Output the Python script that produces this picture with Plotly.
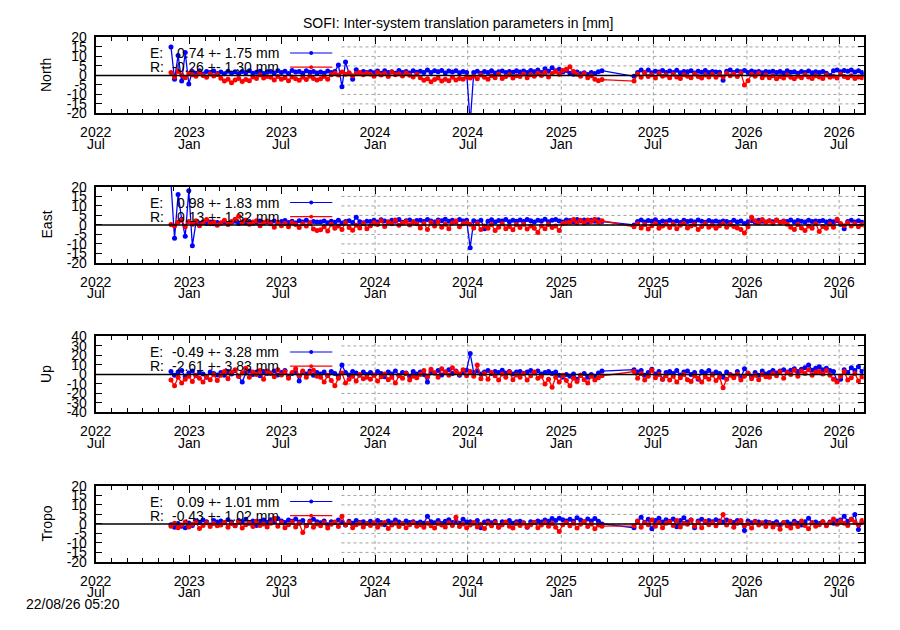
import pandas as pd
import plotly.graph_objects as go

FONT = "Liberation Sans"

# ---- time axis -------------------------------------------------------------
START = "2022-11-26"          # first weekly sample
N_SAMPLES = 196               # weekly samples (14 rows of 14)
X_START = "2022-07-01"
X_END = "2026-08-18"
KEY_END = "2023-10-27"        # opaque key box hides the grid left of this date
xtick_vals = ["2022-07-01", "2023-01-01", "2023-07-01", "2024-01-01", "2024-07-01",
              "2025-01-01", "2025-07-01", "2026-01-01", "2026-07-01"]
xtick_years = ["2022", "2023", "2023", "2024", "2024", "2025", "2025", "2026", "2026"]
xtick_months = ["Jul", "Jan", "Jul", "Jan", "Jul", "Jan", "Jul", "Jan", "Jul"]

# ---- series (weekly values, mm); None = no data (gap Apr-May 2025) ----------
north_e = [
    15.0, -2.0, 10.5, -3.0, 12.0, -4.5, 2.0, 1.2, 2.4, 0.8, 2.1, 1.5, 2.3, 1.0,
    1.8, 0.9, 2.2, 1.3, 1.9, 0.7, 2.0, 1.4, 2.4, 1.1, 1.7, 2.2, 1.0, 1.9,
    2.1, 1.3, 2.5, 1.6, 2.2, 1.0, 2.6, 1.8, 2.0, 1.2, 2.4, 1.7, 2.1, 1.3,
    1.8, 1.2, 2.3, 1.5, 2.0, 5.5, -6.0, 7.0, 1.0, -2.0, 3.0, 1.2, 2.0, 1.5,
    2.0, 1.4, 2.3, 1.1, 2.5, 1.6, 1.9, 1.2, 2.6, 1.5, 2.0, 1.3, 2.4, 1.7,
    2.2, 1.6, 2.8, 1.5, 2.4, 1.9, 2.6, 1.3, 2.3, 1.8, 2.5, 1.4, 2.0, 1.6,
    -25.0, 1.5, 2.2, 1.2, 2.0, 1.6, 2.4, 1.3, 1.9, 2.3, 1.5, 2.1, 1.7, 2.4,
    1.8, 2.3, 1.5, 2.6, 1.9, 2.8, 1.6, 3.5, 2.2, 4.0, 2.5, 3.2, 1.8, 2.6,
    1.2, 0.6, 1.8, 0.9, 1.4, 0.5, 1.6, 1.0, 1.9, 2.5, None, None, None, None,
    None, None, None, None, -0.5, 1.5, 2.8, 1.6, 2.9, 1.4, 2.2, 1.8, 2.6, 1.5,
    2.3, 1.6, 2.7, 1.4, 2.1, 1.9, 2.5, 1.3, 2.2, 1.7, 2.6, 1.5, 2.0, 1.8,
    1.7, -2.5, 2.2, 2.8, 1.6, 2.4, 1.9, 2.6, 1.5, 2.3, 1.8, 2.1, 1.4, 2.0,
    1.8, 2.2, 1.5, 2.0, 1.3, 2.4, 1.7, 1.9, 1.2, 2.1, 1.6, 2.3, 1.4, 1.9,
    1.6, 2.0, 1.2, 0.0, 2.4, 2.8, 1.9, 2.6, 2.2, 2.9, 1.8, 2.5, 1.5, 1.0,
]
north_r = [
    1.5, -0.8, 2.0, 0.2, -1.2, 1.0, 0.4, -0.5, 1.6, 0.0, -1.0, 0.8, -0.3, 0.5,
    -1.5, -3.0, -2.0, -3.8, -2.4, -1.6, -3.2, -2.2, -2.8, -0.8, -1.6, 0.2, -1.4, -0.6,
    -1.0, -2.4, -0.6, -2.0, -1.2, -2.8, -0.8, -1.8, -2.6, -1.0, -2.2, -0.5, -1.6, -2.4,
    -1.8, -0.6, -2.0, 0.4, 1.2, 0.2, 1.8, 0.6, 1.4, -0.2, 1.0, 1.6, 0.3, 1.2,
    0.8, -0.4, 1.5, 0.2, 1.0, -0.6, 1.8, 0.4, 0.9, -0.3, 1.3, 0.1, -0.8, 0.6,
    -1.2, -2.6, -1.8, -3.4, -2.2, -1.4, -3.0, -2.0, -2.8, -1.0, -2.4, -1.6, -2.0, -0.8,
    -1.4, -0.4, -1.8, 0.2, -1.0, -2.0, -0.2, -1.2, 0.6, -1.6, -0.6, 0.4, -1.4, -0.2,
    -0.6, 0.8, -1.2, 0.4, -0.4, 1.2, 0.0, 1.6, -0.8, 1.0, 2.0, 0.6, 2.6, 3.2,
    4.5, 2.0, 0.6, -0.4, 1.0, -1.2, -0.2, -2.0, -2.8, -2.2, None, None, None, None,
    None, None, None, None, -3.0, 0.8, -1.0, 1.4, -0.6, 0.4, -1.4, 1.0, -0.4, 0.2,
    -1.2, 0.6, -0.8, -1.6, 0.4, -0.4, -1.2, 0.8, -0.6, -1.4, 0.2, -0.8, 0.6, -1.0,
    0.4, -0.8, 1.0, -0.2, 0.8, -0.6, 1.2, -5.0, -2.8, 0.6, -0.4, 1.0, -1.2, 0.2,
    -1.2, -0.2, -1.8, -0.6, -1.4, 0.2, -1.0, -1.8, -0.4, -1.2, 0.4, -0.8, -1.6, -0.2,
    -0.8, -1.6, 0.2, -1.0, -0.4, -1.4, 0.6, -0.6, -1.2, -0.2, -1.6, -0.8, -1.2, -0.4,
]
east_e = [
    22.0, -7.0, 16.0, 3.0, -6.0, 18.0, -11.0, 1.2, 0.5, 1.5, 0.8, 1.6, 0.6, 1.3,
    1.0, 1.6, 0.7, 1.4, 1.9, 0.8, 1.5, 1.1, 1.8, 0.9, 1.4, 2.0, 1.2, 1.7,
    1.4, 2.0, 1.1, 1.8, 2.3, 1.3, 1.9, 1.0, 2.2, 1.6, 2.4, 1.2, 1.8, 1.5,
    1.6, 2.1, 1.2, 1.9, 1.4, 2.4, 1.0, 1.8, 2.2, 1.3, 4.0, 1.7, 1.1, 1.9,
    1.8, 2.4, 1.5, 2.7, 2.0, 1.6, 2.5, 1.9, 2.8, 1.4, 2.2, 2.6, 1.7, 2.3,
    2.4, 1.8, 2.9, 2.1, 1.6, 2.6, 2.2, 3.0, 1.9, 2.5, 1.7, 2.8, 2.0, 2.4,
    -12.0, 2.2, 1.6, 2.5, -2.0, 1.9, 2.7, 1.5, 2.3, 2.0, 2.8, 1.7, 2.4, 1.9,
    2.6, 1.8, 2.9, 2.2, 1.6, 2.5, 2.0, 3.0, 1.7, 2.4, 2.8, 2.1, 1.5, 2.6,
    2.3, 1.7, 2.8, 2.0, 2.6, 1.5, 2.4, 1.9, 2.7, 1.8, None, None, None, None,
    None, None, None, None, 0.0, 1.8, 2.6, 1.5, 2.3, 1.9, 2.7, 1.4, 2.1, 1.7,
    2.4, 1.6, 2.0, 1.3, 2.5, 1.8, 2.2, 1.5, 2.6, 1.9, 1.4, 2.3, 1.7, 2.0,
    1.5, 2.1, 1.8, 1.3, 2.4, 1.6, 2.0, 0.8, 1.7, 2.2, 1.4, 2.5, 1.9, 1.6,
    2.2, 1.7, 2.5, 1.4, 2.0, 1.8, 2.6, 1.5, 2.3, 1.9, 1.6, 2.4, 1.8, 2.1,
    1.9, 2.3, 1.5, 2.0, 1.7, 2.2, 0.4, -2.0, 1.8, 2.4, 1.6, 2.2, 1.4, 1.8,
]
east_r = [
    0.2, -0.6, 1.4, 2.6, -1.0, 1.8, 0.4, 2.2, -0.4, 1.2, 2.8, 0.6, 1.6, -0.2,
    1.0, 2.4, 0.2, 1.8, 3.0, 4.5, 1.2, 2.6, 0.4, 1.6, 2.2, -0.4, 1.4, 2.0,
    0.6, -1.2, 1.4, -0.4, 0.8, -1.0, 1.2, 0.2, -1.4, 0.6, -0.6, 1.0, -2.2, -3.0,
    -2.6, -1.0, -3.2, 0.4, -1.8, -0.6, -2.4, 1.2, -1.4, -2.8, -0.2, -1.6, 0.8, -2.0,
    -0.4, 1.2, 0.2, 2.2, -0.8, 1.6, 0.6, 2.6, -0.2, 1.0, 1.8, 0.0, 1.4, 0.6,
    -1.6, 0.8, -2.4, 1.4, -0.6, 1.8, -1.2, 0.4, -2.0, 1.0, 2.0, -1.0, 0.6, 1.2,
    0.4, -1.6, 0.8, -2.4, -0.6, -1.8, 0.2, -3.0, -1.2, 0.6, -2.0, -0.8, -2.6, 0.2,
    -1.4, 0.4, -2.2, -0.6, -1.8, -4.0, -0.4, -2.0, 0.2, -1.4, -0.6, -3.0, 0.8, 1.2,
    1.6, 2.8, 1.2, 2.4, 1.0, 2.6, 1.8, 3.0, 1.4, 2.2, None, None, None, None,
    None, None, None, None, -1.0, 0.6, -1.6, 0.2, -2.2, -0.4, 0.8, -1.8, -0.6, 0.4,
    -1.4, 0.4, -2.0, -0.2, 0.8, -1.6, -0.6, 0.2, -2.4, -0.8, 0.6, -1.2, -0.2, -1.8,
    -0.4, 0.6, -1.2, 0.2, -0.8, -1.6, -2.4, -4.2, -1.0, 4.0, 2.2, 1.0, 2.8, 1.4,
    2.0, 0.8, 2.6, 1.2, 1.8, 0.4, -1.2, -2.4, 0.2, -1.6, -3.0, -0.6, -1.8, 0.6,
    -3.5, -0.8, -1.8, 0.4, -1.2, 3.0, 0.8, -0.4, 1.2, -0.6, 0.6, -1.0, 0.2, -0.8,
]
up_e = [
    3.0, -1.0, 2.5, 4.0, -2.5, 1.5, 3.5, -1.5, 2.0, 0.5, -3.0, 2.5, 1.0, -0.5,
    2.0, -1.0, 3.0, 0.5, 4.0, -2.0, -8.0, 1.5, 3.5, 0.0, 2.5, -1.5, 3.0, 1.0,
    1.5, 3.5, -0.5, 2.0, 4.0, -2.0, 1.0, 3.0, -7.0, 2.5, 0.5, 3.5, -1.0, 2.0,
    0.5, 2.5, -1.5, 3.0, 1.0, -2.0, 10.0, 2.0, -0.5, 3.0, 1.5, -1.0, 2.5, 0.0,
    2.0, -0.5, 3.0, 1.0, -2.5, 2.5, 0.5, 3.5, -1.0, 2.0, 1.5, -2.0, 3.0, 0.5,
    2.5, 0.0, -8.0, 3.0, 1.5, 4.0, -0.5, 2.5, 5.0, 1.0, 3.5, -1.0, 2.0, 4.5,
    22.0, 2.0, 3.5, 0.5, 2.5, 4.0, 1.0, 3.0, 2.0, 4.5, 1.5, 3.0, 0.5, 2.5,
    3.0, 1.0, 2.5, 4.0, 1.5, 3.5, 0.5, 2.0, 3.0, 1.0, 2.5, -1.0, -3.0, 0.0,
    -2.0, 0.5, -5.0, -1.0, 1.0, -3.0, 0.0, -2.5, 1.5, 3.5, None, None, None, None,
    None, None, None, None, 5.0, 2.5, 4.0, -1.0, 2.0, 5.5, 0.5, 3.0, -5.0, 2.0,
    3.0, 1.0, 4.0, -0.5, 2.5, 3.5, 0.0, 2.0, -5.0, 3.0, 1.5, 4.0, 0.5, 2.5,
    1.0, -3.0, 2.5, 0.0, -2.0, 3.0, -3.5, 6.0, 1.0, -2.5, 2.0, -1.0, 3.5, 0.5,
    2.0, 4.0, 1.5, 3.5, 5.0, 2.5, 4.5, 6.0, 3.0, 5.5, 7.0, 10.0, 4.5, 6.5,
    8.0, 5.0, 6.5, 4.0, 3.0, -7.0, -5.0, 5.0, 2.0, 7.0, 4.0, 8.0, 3.0, 6.0,
]
up_r = [
    -6.0, -12.0, -3.0, -9.0, -5.0, -2.0, -7.5, -1.0, -4.0, -8.0, -2.5, -5.5, 0.0, -6.5,
    -1.0, 3.0, -4.5, 2.0, 5.0, -2.0, 1.5, 6.5, -3.0, 2.5, 0.0, 4.0, -5.0, 3.5,
    1.0, -2.5, 5.0, -0.5, 3.0, -4.0, 2.0, 6.0, -1.5, 3.5, -3.0, 1.5, 4.5, -2.0,
    -3.0, -8.0, -1.0, -6.5, -12.0, -4.0, 1.5, -9.0, -5.0, -2.0, -7.0, 0.0, -4.5, -3.0,
    -5.0, -1.0, -7.0, -2.5, 0.5, -5.5, -3.0, -9.0, -1.5, -4.0, 1.0, -6.0, -2.0, -3.5,
    0.0, 4.0, -2.5, 5.5, 1.5, -3.0, 6.0, 2.5, -1.0, 7.0, 3.0, 0.5, 5.0, -1.5,
    3.0, -2.0, 10.0, -4.5, 1.0, -5.0, 2.0, -1.5, -6.0, 0.5, -3.0, 2.5, -5.5, -0.5,
    -3.0, 1.0, -6.0, -1.5, 2.5, -4.0, -2.0, -10.0, -5.0, -13.5, -3.0, -8.0, -1.0, -6.5,
    -12.0, -4.0, -7.5, -1.0, -5.5, -9.0, -2.0, -6.0, -3.5, -1.5, None, None, None, None,
    None, None, None, None, 3.0, -4.0, 1.0, -6.0, -2.0, 4.5, -3.5, 0.0, -5.0, -1.5,
    -6.0, -2.0, -8.0, -3.5, 0.0, -5.5, -7.5, -1.5, -4.0, -8.0, -2.5, -5.0, -0.5, -6.5,
    -3.0, -14.0, -5.0, -1.0, -3.5, 0.5, -6.0, -2.0, 1.5, -4.5, -1.0, -5.5, 0.0, -2.5,
    -3.0, 1.0, -1.5, 3.0, -4.0, 2.0, 0.0, 4.5, -2.0, 3.5, 1.0, 5.0, -1.0, 2.5,
    3.0, 0.5, 4.0, -1.0, -5.0, -8.0, -2.0, 3.0, -6.0, -3.5, 1.0, -7.0, -2.5, -4.0,
]
tropo_e = [
    -0.5, -1.8, 0.2, -1.2, -2.0, 0.5, -0.8, 1.5, 0.8, 2.0, 1.2, -0.6, 1.8, 1.0,
    1.6, 0.6, 2.2, 1.0, -1.0, 1.8, 1.2, 2.4, 0.4, 1.6, -0.8, 1.4, 2.0, 0.8,
    2.2, 1.2, 2.8, 1.6, 0.8, 2.0, 1.4, 2.6, 1.0, 1.8, -1.0, 1.6, 2.4, 1.2,
    0.6, 1.6, -0.4, 1.2, 0.8, 2.0, 1.0, -0.6, 1.4, 0.4, 1.8, 0.8, 1.2, 0.2,
    1.4, 0.4, 1.8, 0.8, -0.4, 1.6, 0.6, 2.0, 1.0, 0.2, 1.6, 0.8, 1.2, 0.4,
    1.0, 0.4, 4.0, 1.2, 0.6, 1.8, 0.2, 1.4, 2.2, 0.8, 1.6, 0.4, 2.4, 1.0,
    1.2, 0.4, 1.8, -2.0, 1.0, 1.6, 0.6, 1.4, -1.6, 1.2, 0.8, 1.8, 0.4, 1.2,
    1.4, 0.6, -1.8, 1.2, 0.8, 1.6, 1.0, 2.0, 1.4, 2.8, 1.8, 3.0, 2.2, 1.6,
    2.4, 1.4, 3.2, 2.0, 1.2, 2.6, 1.6, 2.8, 1.4, 0.0, None, None, None, None,
    None, None, None, None, -2.0, 1.6, 3.5, 0.8, 2.4, -2.5, 1.8, 3.0, 1.0, 2.2,
    1.4, 2.6, -1.5, 1.8, 3.2, 1.0, 2.0, -2.0, 1.6, 2.4, 0.8, 1.8, 1.2, 2.2,
    1.6, 1.0, 2.0, 1.4, 0.8, 1.8, 1.2, -3.5, 1.6, 0.6, 1.4, 1.0, 0.4, 1.2,
    0.8, 0.2, 1.2, -0.4, 0.6, 1.0, 0.0, 1.4, 0.4, -0.6, 1.2, 3.0, 0.6, 1.0,
    0.2, 1.2, -0.6, 1.0, 0.4, 1.6, 2.0, 4.0, 1.4, 2.4, 5.0, -3.0, 1.0, 0.6,
]
tropo_r = [
    -1.2, 0.4, -2.0, -0.6, 1.0, -1.6, -0.2, 0.8, -2.4, -0.8, 0.6, -1.4, 0.2, -1.0,
    -0.6, 0.8, -1.8, 0.2, -1.0, 1.2, -2.2, -0.4, 0.6, -1.4, 1.4, -0.8, 0.0, -1.6,
    0.4, 3.0, -1.2, 0.8, -2.0, -0.4, 1.0, -1.6, 0.2, -4.5, -0.8, 1.2, -1.8, 0.0,
    -1.0, 0.6, -2.2, -0.2, 1.0, -1.4, 4.0, -0.6, 0.8, -2.0, -0.4, 0.4, -1.6, 0.2,
    -0.8, 0.6, -1.8, -0.2, 0.8, -2.4, -0.6, 0.4, -1.4, 0.2, -2.0, -0.4, 0.6, -1.2,
    -0.4, -1.8, 0.4, -1.0, -2.2, 0.2, -0.6, -1.6, 0.6, -0.8, 3.5, -1.4, 0.0, -2.0,
    -0.6, 0.8, -1.6, -0.2, -2.4, 0.4, -1.0, 0.6, -1.8, -0.4, 1.0, -1.2, -2.2, 0.2,
    -0.8, 0.4, -1.6, -0.4, 0.8, -2.0, -0.6, 0.6, -1.2, 0.2, -1.8, -4.0, -0.4, 0.8,
    -1.0, 0.4, -2.2, -0.2, 1.2, -1.4, 0.0, -2.6, -0.6, -1.2, None, None, None, None,
    None, None, None, None, -1.0, 1.4, -1.8, 0.6, -0.4, 2.0, -1.2, 0.8, -2.0, 0.4,
    1.2, -0.8, 1.8, -1.6, 0.4, -0.2, 2.0, -1.2, 0.8, -2.0, 1.4, -0.4, 0.6, -1.0,
    0.8, 5.0, -0.6, 1.4, -1.8, 0.4, 1.8, -1.0, 0.2, -2.2, 1.2, -0.6, 0.6, -1.4,
    0.4, -1.6, -0.2, -2.8, 0.8, -1.0, -2.2, 0.2, -1.4, 1.6, -0.8, -2.6, 0.6, -1.2,
    -0.4, 1.2, -1.0, 0.6, 2.6, -0.2, 1.4, 0.4, -0.8, 2.4, 1.0, -0.6, 1.8, 0.2,
]

panel_names = ["North", "East", "Up", "Tropo"]
panel_limits = [20, 20, 40, 20]
panel_steps = [5, 5, 10, 5]
legend_e = ["0.74 +- 1.75 mm", "0.98 +- 1.83 mm", "-0.49 +- 3.28 mm", "0.09 +- 1.01 mm"]
legend_r = ["-0.26 +- 1.30 mm", "0.13 +- 1.32 mm", "-2.61 +- 3.83 mm", "-0.43 +- 1.02 mm"]
series_e = [north_e, east_e, up_e, tropo_e]
series_r = [north_r, east_r, up_r, tropo_r]

TITLE = "SOFI: Inter-system translation parameters in [mm]"
STAMP = "22/08/26 05:20"
BLUE = "#0000ff"
RED = "#ff0000"
GRID = "#a0a0a0"

# ---- layout geometry (pixels of the 900x630 page) ---------------------------
OFF = 8                       # default body margin of the html page
W, H = 900 - 2 * OFF, 630 - 2 * OFF
PLOT_L, PLOT_R = 81, 863
PANEL_TOPS = [30, 183.5, 337, 490.5]
PANEL_H = 78


def px(x):
    return (x - OFF) / W


def py(y):
    return 1 - (y - OFF) / H


dates = pd.date_range(START, periods=N_SAMPLES, freq="7D")
for s in series_e + series_r:
    assert len(s) == N_SAMPLES, len(s)

font = dict(family=FONT, size=14, color="black")
fig = go.Figure()
layout = dict(
    width=W, height=H, autosize=False,
    margin=dict(l=0, r=0, t=0, b=0, pad=0),
    paper_bgcolor="white", plot_bgcolor="white",
    showlegend=False, font=font,
)
shapes, annotations = [], []
grid_line = dict(color=GRID, width=1, dash="dot")

for i in range(4):
    n = i + 1
    xa = "x" if n == 1 else f"x{n}"
    ya = "y" if n == 1 else f"y{n}"
    xkey = "xaxis" if n == 1 else f"xaxis{n}"
    ykey = "yaxis" if n == 1 else f"yaxis{n}"
    top = PANEL_TOPS[i]
    dom = [py(top + PANEL_H), py(top)]

    for vals, col in ((series_e[i], BLUE), (series_r[i], RED)):
        fig.add_trace(go.Scatter(
            x=dates, y=vals, mode="lines+markers", connectgaps=True,
            line=dict(color=col, width=1.3),
            marker=dict(color=col, size=5, line=dict(width=0)),
            xaxis=xa, yaxis=ya, hoverinfo="skip", cliponaxis=True,
        ))

    lim, step = panel_limits[i], panel_steps[i]
    ytv = list(range(-lim, lim + 1, step))
    layout[xkey] = dict(
        type="date", range=[X_START, X_END], domain=[px(PLOT_L), px(PLOT_R)],
        anchor=ya, tickmode="array", tickvals=xtick_vals, ticktext=xtick_years,
        ticks="inside", ticklen=7, tickwidth=1, tickcolor="black",
        showline=True, linecolor="black", linewidth=2, mirror="ticks",
        showgrid=False, zeroline=False, tickfont=font, ticklabelstandoff=5,
        minor=dict(dtick="M1", tick0=X_START, ticks="inside", ticklen=4,
                   tickwidth=1, tickcolor="black", showgrid=False),
    )
    layout[ykey] = dict(
        range=[-lim, lim], domain=dom, anchor=xa,
        tickmode="array", tickvals=ytv, ticktext=[str(v) for v in ytv],
        ticks="inside", ticklen=6, tickwidth=1, tickcolor="black",
        showline=True, linecolor="black", linewidth=2, mirror="ticks",
        showgrid=False, zeroline=False, tickfont=font, ticklabelstandoff=4,
    )

    # dotted grid, hidden on the left where the opaque key box sits
    for xv in xtick_vals:
        if xv > KEY_END:
            shapes.append(dict(type="line", xref=xa, yref=f"{ya} domain",
                               x0=xv, x1=xv, y0=0, y1=1, line=grid_line, layer="below"))
    for yv in ytv[1:-1]:
        shapes.append(dict(type="line", xref=xa, yref=ya,
                           x0=KEY_END, x1=X_END, y0=yv, y1=yv, line=grid_line, layer="below"))
    # zero axis
    shapes.append(dict(type="line", xref=f"{xa} domain", yref=ya,
                       x0=0, x1=1, y0=0, y1=0,
                       line=dict(color="black", width=1.5), layer="above"))

    # month line of the x tick labels
    for xv, mo in zip(xtick_vals, xtick_months):
        annotations.append(dict(text=mo, x=xv, xref=xa, xanchor="center",
                                y=-31 / PANEL_H, yref=f"{ya} domain", yanchor="middle",
                                showarrow=False, font=font))

    # key
    rows = [(1 - 16 / PANEL_H, "E:", legend_e[i], BLUE),
            (1 - 30.5 / PANEL_H, "R:", legend_r[i], RED)]
    for ry, lab, txt, col in rows:
        annotations.append(dict(text=lab, x=px(134), xref="paper", xanchor="left",
                                y=ry, yref=f"{ya} domain", yanchor="middle",
                                showarrow=False, font=font))
        annotations.append(dict(text=txt, x=px(270), xref="paper", xanchor="right",
                                y=ry, yref=f"{ya} domain", yanchor="middle",
                                showarrow=False, font=font))
        shapes.append(dict(type="line", xref="paper", yref=f"{ya} domain",
                           x0=px(279), x1=px(322), y0=ry, y1=ry,
                           line=dict(color=col, width=1.2), layer="above"))
        shapes.append(dict(type="circle", xref="paper", yref=f"{ya} domain",
                           x0=px(298.5), x1=px(302.5),
                           y0=ry - 2 / PANEL_H, y1=ry + 2 / PANEL_H,
                           fillcolor=col, line=dict(width=0), layer="above"))

    # y title
    annotations.append(dict(text=panel_names[i], x=px(31), xref="paper", xanchor="center",
                            y=(dom[0] + dom[1]) / 2, yref="paper", yanchor="middle",
                            textangle=-90, showarrow=False, font=font))

annotations.append(dict(text=TITLE, x=px(450), xref="paper", xanchor="center",
                        y=py(15), yref="paper", yanchor="middle",
                        showarrow=False, font=font))
annotations.append(dict(text=STAMP, x=px(8), xref="paper", xanchor="left",
                        y=0, yref="paper", yanchor="bottom",
                        showarrow=False, font=font))

layout["shapes"] = shapes
layout["annotations"] = annotations
fig.update_layout(**layout)
fig.write_html("out.html")
